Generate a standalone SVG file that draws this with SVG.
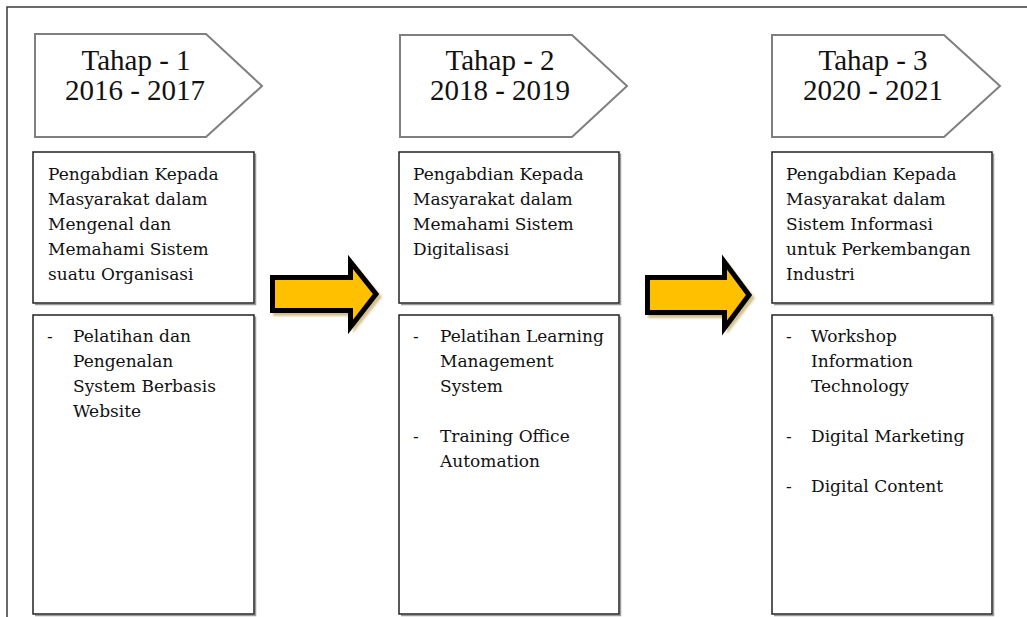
<svg xmlns="http://www.w3.org/2000/svg" width="1027" height="617" viewBox="0 0 1027 617">
  <style>
    .frame { fill: none; stroke: #3a3a3a; stroke-width: 1.5; }
    .tab { fill: #ffffff; stroke: #7f7f7f; stroke-width: 2; stroke-linejoin: miter; }
    .tabtext { font-family: "Liberation Serif", "Times New Roman", serif; font-size: 29px; fill: #111111; text-anchor: middle; }
    .box { fill: #ffffff; stroke: #222222; stroke-width: 1.5; }
    .boxshadow { fill: none; stroke: #9a9a9a; stroke-width: 1.5; }
    .body { font-family: "DejaVu Serif", "Liberation Serif", serif; font-size: 17px; fill: #111111; }
    .arrow { fill: #ffc000; stroke: #000000; stroke-width: 5; stroke-linejoin: miter; }
    .arrowshadow { fill: #cbb57c; filter: url(#soft); opacity: 0.85; }
  </style>
  <defs>
    <filter id="soft" x="-10%" y="-10%" width="120%" height="120%">
      <feGaussianBlur stdDeviation="1.2"/>
    </filter>
  </defs>

  <rect width="1027" height="617" fill="#ffffff"/>
  <!-- page frame: top and left rules -->
  <path class="frame" d="M7 617 V7 H1027"/>

  <!-- stage 1 -->
  <g id="tahap1">
    <polygon class="tab" points="35,34 206,34 262,86 206,137 35,137"/>
    <text class="tabtext" x="136" y="70">Tahap - 1</text>
    <text class="tabtext" x="135" y="100">2016 - 2017</text>
  </g>
  <g id="tujuan1">
    <path class="boxshadow" d="M35 304.5 H255.5 V153.5"/>
    <rect class="box" x="33" y="152" width="221" height="151"/>
    <text class="body">
      <tspan x="48" y="180">Pengabdian Kepada</tspan>
      <tspan x="48" y="205">Masyarakat dalam</tspan>
      <tspan x="48" y="230">Mengenal dan</tspan>
      <tspan x="48" y="255">Memahami Sistem</tspan>
      <tspan x="48" y="280">suatu Organisasi</tspan>
    </text>
  </g>
  <g id="kegiatan1">
    <path class="boxshadow" d="M35 615.5 H255.5 V316.5"/>
    <rect class="box" x="33" y="315" width="221" height="299"/>
    <text class="body">
      <tspan x="47" y="342">-</tspan>
      <tspan x="73" y="342">Pelatihan dan</tspan>
      <tspan x="73" y="367">Pengenalan</tspan>
      <tspan x="73" y="392">System Berbasis</tspan>
      <tspan x="73" y="417">Website</tspan>
    </text>
  </g>

  <!-- stage 2 -->
  <g id="tahap2">
    <polygon class="tab" points="400,35 572,35 627,86 572,137 400,137"/>
    <text class="tabtext" x="500" y="70">Tahap - 2</text>
    <text class="tabtext" x="500" y="100">2018 - 2019</text>
  </g>
  <g id="tujuan2">
    <path class="boxshadow" d="M401 304.5 H620.5 V153.5"/>
    <rect class="box" x="399" y="152" width="220" height="151"/>
    <text class="body">
      <tspan x="413" y="180">Pengabdian Kepada</tspan>
      <tspan x="413" y="205">Masyarakat dalam</tspan>
      <tspan x="413" y="230">Memahami Sistem</tspan>
      <tspan x="413" y="255">Digitalisasi</tspan>
    </text>
  </g>
  <g id="kegiatan2">
    <path class="boxshadow" d="M401 615.5 H620.5 V316.5"/>
    <rect class="box" x="399" y="315" width="220" height="299"/>
    <text class="body">
      <tspan x="413" y="342">-</tspan>
      <tspan x="440" y="342">Pelatihan Learning</tspan>
      <tspan x="440" y="367">Management</tspan>
      <tspan x="440" y="392">System</tspan>
      <tspan x="413" y="442">-</tspan>
      <tspan x="440" y="442">Training Office</tspan>
      <tspan x="440" y="467">Automation</tspan>
    </text>
  </g>

  <!-- stage 3 -->
  <g id="tahap3">
    <polygon class="tab" points="772,35 944,35 1000,86 944,137 772,137"/>
    <text class="tabtext" x="873" y="70">Tahap - 3</text>
    <text class="tabtext" x="873" y="100">2020 - 2021</text>
  </g>
  <g id="tujuan3">
    <path class="boxshadow" d="M774 304.5 H993.5 V153.5"/>
    <rect class="box" x="772" y="152" width="220" height="151"/>
    <text class="body">
      <tspan x="786" y="180">Pengabdian Kepada</tspan>
      <tspan x="786" y="205">Masyarakat dalam</tspan>
      <tspan x="786" y="230">Sistem Informasi</tspan>
      <tspan x="786" y="255">untuk Perkembangan</tspan>
      <tspan x="786" y="280">Industri</tspan>
    </text>
  </g>
  <g id="kegiatan3">
    <path class="boxshadow" d="M774 615.5 H993.5 V316.5"/>
    <rect class="box" x="772" y="315" width="220" height="299"/>
    <text class="body">
      <tspan x="786" y="342">-</tspan>
      <tspan x="811" y="342">Workshop</tspan>
      <tspan x="811" y="367">Information</tspan>
      <tspan x="811" y="392">Technology</tspan>
      <tspan x="786" y="442">-</tspan>
      <tspan x="811" y="442">Digital Marketing</tspan>
      <tspan x="786" y="492">-</tspan>
      <tspan x="811" y="492">Digital Content</tspan>
    </text>
  </g>

  <!-- block arrows between stages -->
  <g id="connectors">
    <g id="panah1">
      <polygon class="arrowshadow" points="273,280 353,280 353,262 382,297 353,333 353,316 273,316"/>
      <polygon class="arrow" points="272.5,277.5 350.5,277.5 350.5,262 376,294 350.5,327 350.5,310.5 272.5,310.5"/>
    </g>
    <g id="panah2">
      <polygon class="arrowshadow" points="648,280 727,280 727,262 755,298 727,334 727,318 648,318"/>
      <polygon class="arrow" points="647.5,277.5 724.5,277.5 724.5,262 749,295 724.5,328 724.5,312.5 647.5,312.5"/>
    </g>
  </g>
</svg>
